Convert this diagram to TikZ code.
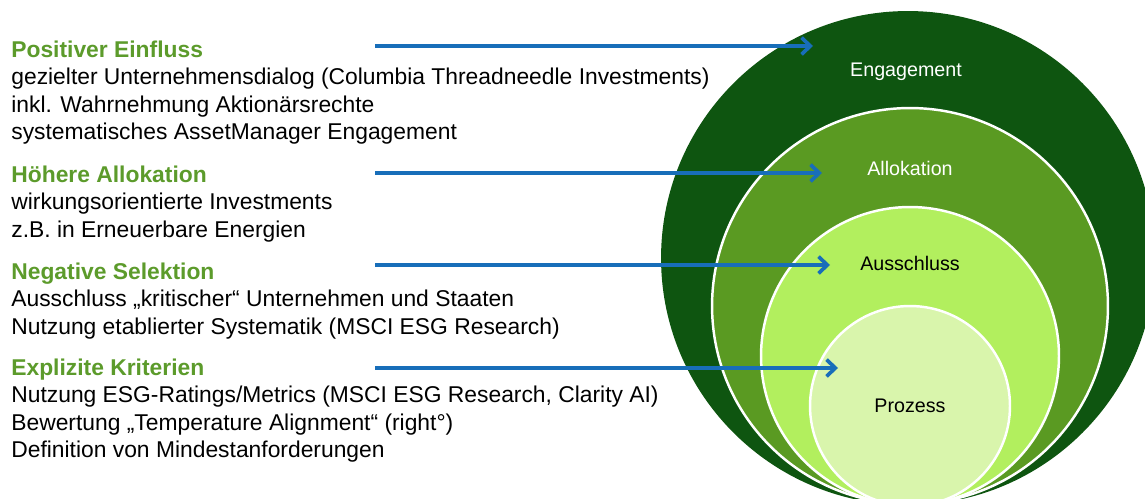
\documentclass[tikz,border=0pt]{standalone}
\usepackage{fontspec}
\setmainfont{Liberation Sans}
\usetikzlibrary{arrows.meta, positioning}
\definecolor{engage}{RGB}{14, 85, 16}
\definecolor{alloc}{RGB}{90, 154, 34}
\definecolor{exclude}{RGB}{178, 239, 94}
\definecolor{process}{RGB}{217, 245, 172}
\definecolor{headgreen}{RGB}{92, 155, 43}
\definecolor{pointer}{RGB}{24, 110, 185}
\tikzstyle{ring} = [circle, draw=white, line width=1.4pt, inner sep=0pt]
\tikzstyle{ringlabel} = [font=\fontsize{11.2}{13}\selectfont]
\tikzstyle{block} = [anchor=north west, align=left, inner sep=0pt, font=\fontsize{13}{15.6}\selectfont]
\newcommand{\blockhead}[1]{\strut\textcolor{headgreen}{\bfseries #1}}
\tikzstyle{arrow} = [pointer, line width=2.1pt, -{Straight Barb[length=5pt, width=9.5pt]}]

\begin{document}
\begin{tikzpicture}[x=0.02cm, y=-0.02cm]
    \useasboundingbox (0,0) rectangle (1145,499);
    \clip (0,0) rectangle (1145,499);

    % Circles
    \node[ring, draw=none, fill=engage, minimum size=9.88cm] (engagement) at (908, 258) {};
    \node[ring, fill=alloc, minimum size=7.92cm] (allokation) at (910, 306) {};
    \node[ring, fill=exclude, minimum size=5.96cm] (ausschluss) at (910, 356) {};
    \node[ring, fill=process, minimum size=4cm] (prozess) at (910, 406) {};

    % Circle labels
    \node[ringlabel, text=white] (l-engagement) at (906, 72) {Engagement};
    \node[ringlabel, text=white] (l-allokation) at (910, 168) {Allokation};
    \node[ringlabel] (l-ausschluss) at (910, 263) {Ausschluss};
    \node[ringlabel] (l-prozess) at (910, 406) {Prozess};

    % Text blocks
    \node[block] (t-positiv) at (11, 37.7) {\blockhead{Positiver Einfluss}\\
        gezielter Unternehmensdialog (Columbia Threadneedle Investments)\\
        inkl. Wahrnehmung Aktionärsrechte\\
        systematisches AssetManager Engagement};
    \node[block] (t-hoeher) at (11, 162.7) {\blockhead{Höhere Allokation}\\
        wirkungsorientierte Investments\\
        z.B. in Erneuerbare Energien};
    \node[block] (t-negativ) at (11, 259.7) {\blockhead{Negative Selektion}\\
        Ausschluss „kritischer“ Unternehmen und Staaten\\
        Nutzung etablierter Systematik (MSCI ESG Research)};
    \node[block] (t-explizit) at (11, 355.7) {\blockhead{Explizite Kriterien}\\
        Nutzung ESG-Ratings/Metrics (MSCI ESG Research, Clarity AI)\\
        Bewertung „Temperature Alignment“ (right°)\\
        Definition von Mindestanforderungen};

    % Arrow ends
    \coordinate (a1) at (375, 46);
    \coordinate (b1) at (813, 46);
    \coordinate (a2) at (375, 173);
    \coordinate (b2) at (822, 173);
    \coordinate (a3) at (375, 265);
    \coordinate (b3) at (830, 265);
    \coordinate (a4) at (375, 368);
    \coordinate (b4) at (838, 368);

    % Arrows
    \draw[arrow] (a1) -- (b1);
    \draw[arrow] (a2) -- (b2);
    \draw[arrow] (a3) -- (b3);
    \draw[arrow] (a4) -- (b4);
\end{tikzpicture}
\end{document}
